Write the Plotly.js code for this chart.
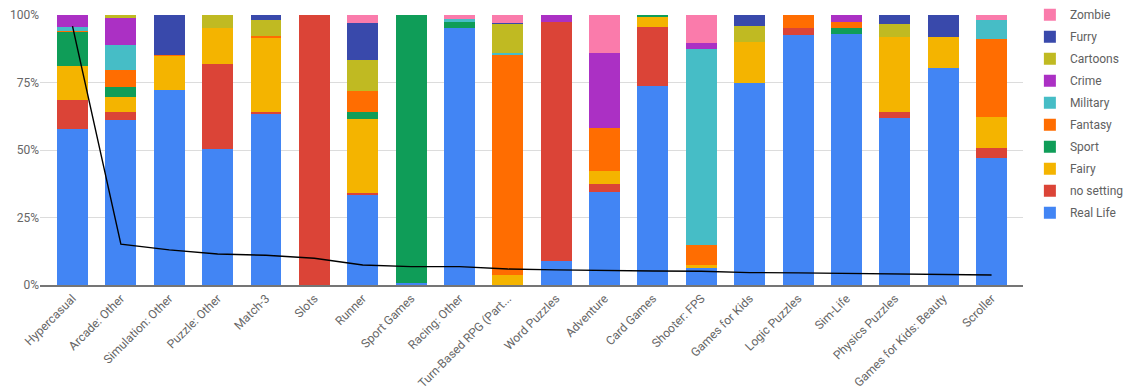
<!DOCTYPE html>
<html>
<head>
<meta charset="utf-8">
<script src="https://cdn.plot.ly/plotly-3.0.1.min.js"></script>
<style>html,body{margin:0;padding:0;background:#fff;}#chart{width:1138px;height:392px;}</style>
</head>
<body>
<div id="chart"></div>
<script>
const categories = ["Hypercasual","Arcade: Other","Simulation: Other","Puzzle: Other","Match-3","Slots","Runner","Sport Games","Racing: Other","Turn-Based RPG (Part...","Word Puzzles","Adventure","Card Games","Shooter: FPS","Games for Kids","Logic Puzzles","Sim-Life","Physics Puzzles","Games for Kids: Beauty","Scroller"];

const realLife  = [57.8, 61.1, 72.2, 50.2, 63.6, 0, 33.7, 0.9, 95.3, 0, 8.8, 34.3, 73.7, 6.2, 74.8, 92.6, 93.1, 61.9, 80.4, 46.9];
const noSetting = [10.7, 2.9, 0, 31.8, 0.3, 100, 0.3, 0, 0, 0, 88.7, 3.1, 22.0, 0, 0, 2.6, 0, 2.2, 0, 3.7];
const fairy     = [12.6, 5.6, 12.7, 13.2, 27.7, 0, 27.4, 0, 0, 3.6, 0, 4.7, 3.7, 1.2, 15.3, 0, 0, 27.8, 11.5, 11.6];
const sport     = [12.7, 3.7, 0, 0, 0, 0, 2.7, 99.1, 2.1, 0, 0, 0, 0.6, 0, 0, 0, 2.1, 0, 0, 0];
const fantasy   = [0.3, 6.5, 0.3, 0, 0.8, 0, 7.9, 0, 0, 81.6, 0, 16.0, 0, 7.3, 0, 4.8, 2.2, 0, 0, 28.9];
const military  = [1.6, 9.1, 0, 0, 0, 0, 0, 0, 1.1, 0.6, 0, 0, 0, 72.7, 0, 0, 0, 0, 0, 7.2];
const crime     = [4.4, 10.0, 0, 0, 0, 0, 0, 0, 0, 0, 2.5, 27.9, 0, 2.4, 0, 0, 2.6, 0, 0, 0];
const cartoons  = [0, 1.1, 0, 4.8, 5.8, 0, 11.3, 0, 0, 10.9, 0, 0, 0, 0, 5.9, 0, 0, 4.8, 0, 0];
const furry     = [0, 0, 14.8, 0, 1.9, 0, 13.6, 0, 0, 0.5, 0, 0, 0, 0, 4.0, 0, 0, 3.3, 8.1, 0];
const zombie    = [0, 0, 0, 0, 0, 0, 3.1, 0, 1.5, 2.8, 0, 14.0, 0, 10.2, 0, 0, 0, 0, 0, 1.7];

const genreShare = [95.9, 15.1, 13.0, 11.5, 11.0, 9.9, 7.4, 6.8, 6.8, 5.9, 5.6, 5.3, 5.2, 5.1, 4.6, 4.5, 4.3, 4.1, 3.9, 3.7];

const seriesNames = ["Real Life","no setting","Fairy","Sport","Fantasy","Military","Crime","Cartoons","Furry","Zombie"];
const seriesValues = [realLife, noSetting, fairy, sport, fantasy, military, crime, cartoons, furry, zombie];
const seriesColors = ["#4285F4","#DB4437","#F4B400","#0F9D58","#FF6D01","#46BDC6","#AB30C4","#C0BA22","#3949AB","#FA7BAB"];

const traces = seriesNames.map((name, i) => ({
  type: 'bar',
  name: name,
  x: categories,
  y: seriesValues[i],
  marker: {color: seriesColors[i], line: {width: 0}},
  legendgroup: 'g' + i,
  legendrank: seriesNames.length - i
}));

traces.push({
  type: 'scatter',
  mode: 'lines',
  x: categories,
  y: genreShare,
  line: {color: '#000000', width: 1.4},
  showlegend: false,
  hoverinfo: 'y'
});

const layout = {
  width: 1138,
  height: 392,
  autosize: false,
  margin: {l: 40, r: 115, t: 15, b: 107, autoexpand: false},
  paper_bgcolor: '#ffffff',
  plot_bgcolor: '#ffffff',
  barmode: 'stack',
  bargap: 0.36,
  font: {family: 'Roboto, Arial, sans-serif', size: 12, color: '#616161'},
  xaxis: {
    type: 'category',
    range: [-0.672, 19.65],
    tickangle: -45,
    showgrid: false,
    showline: true,
    linecolor: '#757575',
    linewidth: 1.5,
    ticks: '',
    tickfont: {size: 12, color: '#666666'},
    zeroline: false,
    automargin: false
  },
  yaxis: {
    range: [0, 100],
    tickvals: [0, 25, 50, 75, 100],
    ticktext: ['0%', '25%', '50%', '75%', '100%'],
    showgrid: true,
    gridcolor: '#dcdcdc',
    gridwidth: 1,
    zeroline: false,
    showline: false,
    ticks: '',
    tickfont: {size: 12, color: '#666666'},
    automargin: false
  },
  legend: {
    x: 1.007,
    xanchor: 'left',
    y: 1.055,
    yanchor: 'top',
    traceorder: 'grouped',
    tracegroupgap: 3,
    maxheight: 380,
    font: {size: 12, color: '#616161'},
    bgcolor: 'rgba(0,0,0,0)'
  },
  showlegend: true
};

Plotly.newPlot('chart', traces, layout, {displayModeBar: false});
</script>
</body>
</html>
